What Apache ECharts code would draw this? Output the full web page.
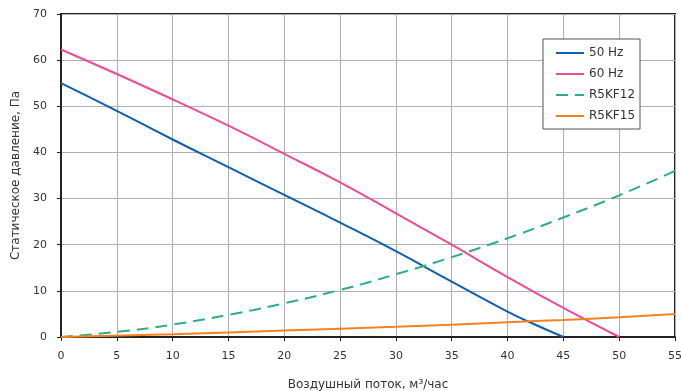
<!DOCTYPE html>
<html>
<head>
<meta charset="utf-8">
<script src="https://cdn.jsdelivr.net/npm/echarts@6/dist/echarts.min.js"></script>
<style>
  html, body { margin: 0; padding: 0; background: #fff; }
  #chart { width: 681px; height: 391px; }
</style>
</head>
<body>
<div id="chart"></div>
<script>
// расход, м3/час -> давление, Па
var hz50 = [[0, 55], [5, 49], [10, 42.8], [15, 36.8], [20, 30.8], [25, 24.8], [30, 18.6], [35, 12], [40, 5.5], [42, 3.2], [45, 0]];
var hz60 = [[0, 62.3], [5, 57], [10, 51.5], [15, 45.8], [20, 39.7], [25, 33.5], [30, 26.8], [35, 20], [40, 13], [45, 6.3], [50, 0]];
var r5kf12 = [[0, 0], [5, 1.1], [10, 2.7], [15, 4.8], [20, 7.3], [25, 10.2], [30, 13.6], [35, 17.3], [40, 21.4], [45, 25.9], [50, 30.7], [55, 36]];
var r5kf15 = [[0, 0], [10, 0.6], [20, 1.4], [30, 2.2], [40, 3.2], [45, 3.7], [50, 4.3], [55, 5]];
var seriesNames = ["50 Hz", "60 Hz", "R5KF12", "R5KF15"];

var chart = echarts.init(document.getElementById("chart"));
var font = "DejaVu Sans";

function line(name, data, color, type) {
  return {
    name: name,
    type: "line",
    data: data,
    smooth: true,
    symbol: "none",
    lineStyle: { color: color, width: 2, type: type || "solid" },
    itemStyle: { color: color }
  };
}

chart.setOption({
  animation: false,
  grid: {
    left: 61, right: 6, top: 14, bottom: 54,
    outerBoundsMode: "none",
    show: true, borderColor: "#222", borderWidth: 2
  },
  legend: {
    orient: "vertical",
    left: 543, top: 39,
    padding: [8, 5, 7, 12],
    itemWidth: 28, itemHeight: 10, itemGap: 9,
    borderColor: "#555", borderWidth: 1,
    backgroundColor: "#fff",
    itemStyle: { opacity: 0 },
    textStyle: { fontFamily: font, fontSize: 12, color: "#333" },
    data: seriesNames
  },
  xAxis: {
    type: "value",
    min: 0, max: 55, interval: 5,
    name: "Воздушный поток, м³/час",
    nameLocation: "middle", nameGap: 42,
    nameTextStyle: { fontFamily: font, fontSize: 12, color: "#333" },
    axisLine: { lineStyle: { color: "#222", width: 2 } },
    axisTick: { lineStyle: { color: "#222" }, length: 4 },
    axisLabel: { fontFamily: font, fontSize: 11, color: "#333", margin: 14 },
    splitLine: { lineStyle: { color: "#b0b0b0" } }
  },
  yAxis: {
    type: "value",
    min: 0, max: 70, interval: 10,
    name: "Статическое давление, Па",
    nameLocation: "middle", nameGap: 37,
    nameTextStyle: { fontFamily: font, fontSize: 12, color: "#333" },
    axisLine: { show: true, lineStyle: { color: "#222", width: 2 } },
    axisTick: { show: true, lineStyle: { color: "#222" }, length: 4 },
    axisLabel: { fontFamily: font, fontSize: 11, color: "#333", margin: 14 },
    splitLine: { lineStyle: { color: "#b0b0b0" } }
  },
  series: [
    line(seriesNames[0], hz50, "#0f5fb0"),
    line(seriesNames[1], hz60, "#ee4a96"),
    line(seriesNames[2], r5kf12, "#2eae80", [12, 7]),
    line(seriesNames[3], r5kf15, "#f5821f")
  ]
});
</script>
</body>
</html>
